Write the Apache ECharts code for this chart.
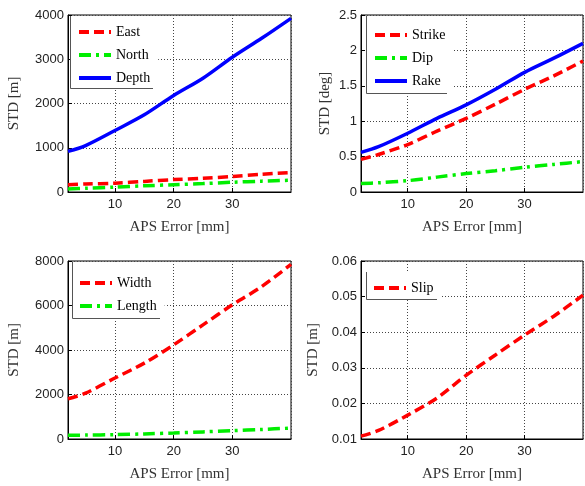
<!DOCTYPE html>
<html>
<head>
<meta charset="utf-8">
<script src="https://cdn.jsdelivr.net/npm/echarts@6/dist/echarts.min.js"></script>
<style>
  html, body { margin: 0; padding: 0; background: #fff; }
  #chart { width: 585px; height: 486px; }
</style>
</head>
<body>
<div id="chart"></div>
<script>
// APS error [mm]
const apsError = [2, 5, 10, 15, 20, 25, 30, 35, 40]

// location STD [m]
const east = [165, 180, 200, 240, 280, 310, 350, 400, 440]
const north = [70, 85, 110, 140, 165, 190, 220, 245, 265]
const depth = [917, 1050, 1390, 1744, 2180, 2571, 3045, 3474, 3925]

// angle STD [deg]
const strike = [0.46, 0.53, 0.67, 0.86, 1.04, 1.24, 1.45, 1.64, 1.85]
const dip = [0.12, 0.13, 0.16, 0.21, 0.26, 0.30, 0.35, 0.39, 0.43]
const rake = [0.56, 0.64, 0.83, 1.04, 1.23, 1.45, 1.69, 1.89, 2.1]

// size STD [m]
const width = [1810, 2060, 2740, 3410, 4230, 5130, 6030, 6850, 7850]
const length = [165, 175, 195, 230, 270, 320, 375, 430, 490]

// slip STD [m]
const slip = [0.0108, 0.0124, 0.0167, 0.0215, 0.0279, 0.0336, 0.0392, 0.0445, 0.0504]

const pairs = ys => apsError.map((x, i) => [x, ys[i]])

const RED = '#ff0000', GREEN = '#00ee00', BLUE = '#0000ff'
const DASH = [10, 5]
const DASHDOT = [12, 5, 3, 5]

const grids = [
  { left: 68, top: 15, width: 223, height: 177 },
  { left: 361, top: 15, width: 222, height: 177 },
  { left: 68, top: 261, width: 223, height: 178 },
  { left: 361, top: 261, width: 222, height: 178 },
]

function xAxis(i) {
  return {
    gridIndex: i,
    type: 'value',
    min: 2,
    max: 40,
    splitNumber: 4,
    name: 'APS Error [mm]',
    nameLocation: 'middle',
    nameGap: 28,
    nameTextStyle: { fontFamily: 'Liberation Serif', fontSize: 15, color: '#333' },
    axisLine: { lineStyle: { color: '#000' } },
    axisTick: { inside: true, length: 4, lineStyle: { color: '#000' } },
    axisLabel: {
      showMinLabel: false, showMaxLabel: false, margin: 6,
      fontFamily: 'Liberation Sans', fontSize: 13, color: '#222',
    },
    splitLine: { show: true, lineStyle: { color: '#444', type: [1, 2] } },
  }
}

function yAxis(i, name, min, max, interval, gap) {
  return {
    gridIndex: i,
    type: 'value',
    min, max, interval,
    name,
    nameLocation: 'middle',
    nameGap: gap,
    nameTextStyle: { fontFamily: 'Liberation Serif', fontSize: 15, color: '#333' },
    axisLine: { show: true, lineStyle: { color: '#000' } },
    axisTick: { show: true, inside: true, length: 4, lineStyle: { color: '#000' } },
    axisLabel: {
      margin: 4, fontFamily: 'Liberation Sans', fontSize: 13, color: '#222',
      formatter: v => String(+v.toFixed(4)),
    },
    splitLine: { show: true, lineStyle: { color: '#444', type: [1, 2] } },
  }
}

function line(name, ys, idx, color, type) {
  return {
    name, type: 'line', xAxisIndex: idx, yAxisIndex: idx,
    data: pairs(ys), symbol: 'none', smooth: 0.3,
    lineStyle: { color, width: 3.5, type },
    itemStyle: { color },
    z: 3,
  }
}

function legend(names, left, top, padding) {
  return {
    data: names, orient: 'vertical', left, top,
    itemWidth: 32, itemHeight: 14, itemGap: 9,
    padding, backgroundColor: '#fff',
    itemStyle: { opacity: 0 },
    lineStyle: { width: 4 },
    textStyle: { fontFamily: 'Liberation Serif', fontSize: 14, color: '#000', padding: [0, 0, 0, 0] },
    selectedMode: false, z: 5,
  }
}

// legend frame: left and bottom edges only
function frame(x0, y0, x1, y1) {
  return {
    type: 'polyline', silent: true, z: 10,
    shape: { points: [[x0, y0], [x0, y1], [x1, y1]] },
    style: { stroke: '#555', lineWidth: 1, fill: null },
  }
}

const chart = echarts.init(document.getElementById('chart'))
chart.setOption({
  animation: false,
  grid: grids.map(g => Object.assign({ show: true, borderColor: '#000', borderWidth: 1, backgroundColor: 'transparent' }, g)),
  xAxis: [0, 1, 2, 3].map(xAxis),
  yAxis: [
    yAxis(0, 'STD [m]', 0, 4000, 1000, 46),
    yAxis(1, 'STD [deg]', 0, 2.5, 0.5, 28),
    yAxis(2, 'STD [m]', 0, 8000, 2000, 46),
    yAxis(3, 'STD [m]', 0.01, 0.06, 0.01, 40),
  ],
  legend: [
    legend(['East', 'North', 'Depth'], 70, 16, [9, 8, 4, 7]),
    legend(['Strike', 'Dip', 'Rake'], 366, 16, [12, 8, 5, 7]),
    legend(['Width', 'Length'], 72, 262, [14, 8, 4, 6]),
    legend(['Slip'], 366, 272, [9, 8, 5, 6]),
  ],
  graphic: [
    frame(70.5, 16, 153, 88.5),
    frame(366.5, 16, 447, 93.5),
    frame(72.5, 262, 160, 318.5),
    frame(366.5, 272, 437, 299.5),
  ],
  series: [
    line('East', east, 0, RED, DASH),
    line('North', north, 0, GREEN, DASHDOT),
    line('Depth', depth, 0, BLUE, 'solid'),
    line('Strike', strike, 1, RED, DASH),
    line('Dip', dip, 1, GREEN, DASHDOT),
    line('Rake', rake, 1, BLUE, 'solid'),
    line('Width', width, 2, RED, DASH),
    line('Length', length, 2, GREEN, DASHDOT),
    line('Slip', slip, 3, RED, DASH),
  ],
})
</script>
</body>
</html>
